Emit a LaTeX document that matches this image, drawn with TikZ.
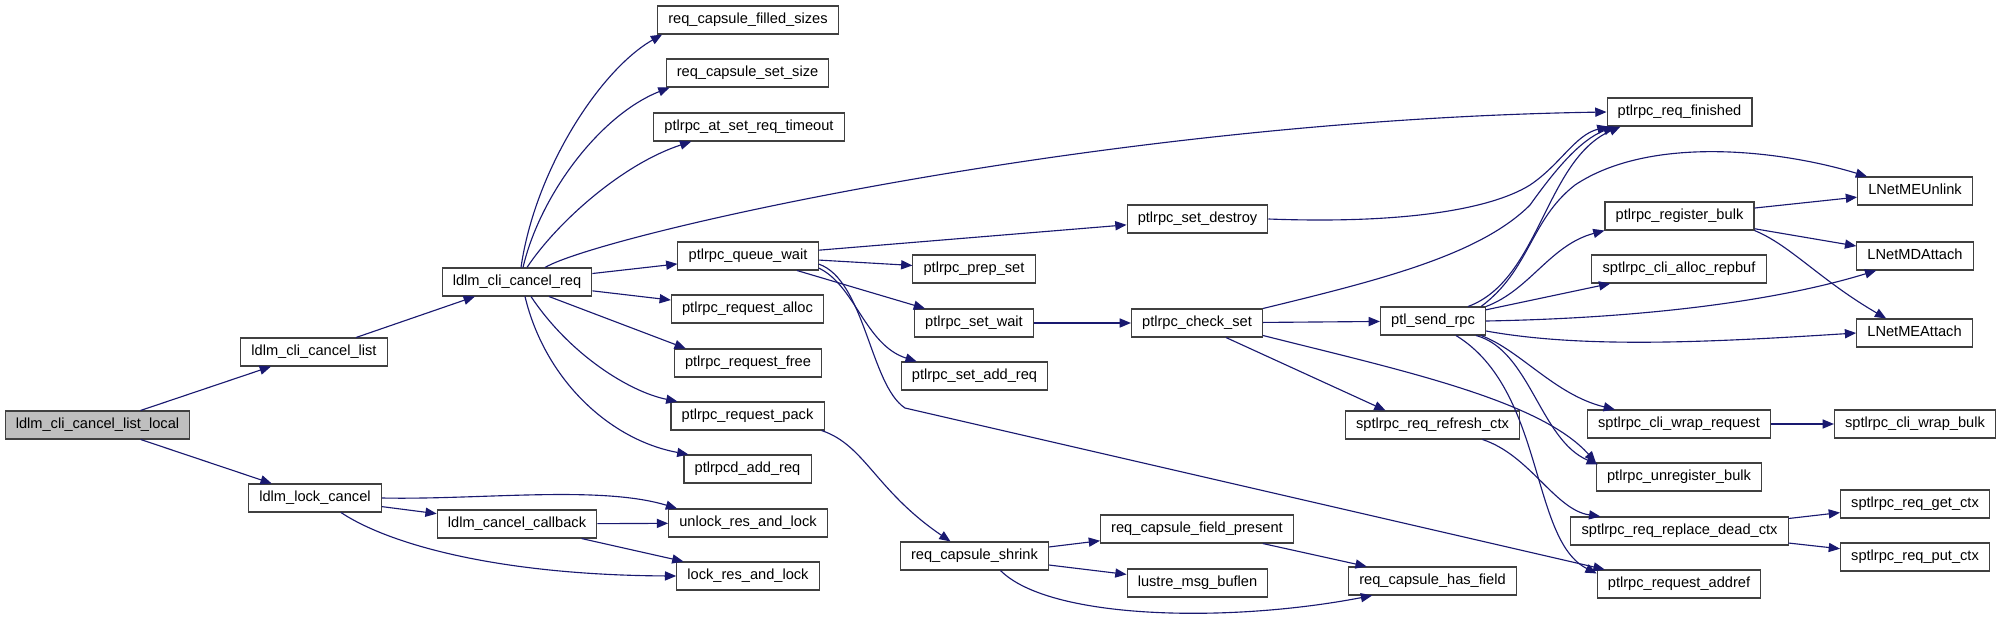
\documentclass[tikz,border=0pt]{standalone}
\usepackage{fontspec}
\setmainfont{Liberation Sans}
\usepackage{xcolor}
\definecolor{callblue}{HTML}{191970}
\definecolor{boxline}{HTML}{404040}
\definecolor{rootfill}{HTML}{BFBFBF}
\usepackage{tikz}
\usetikzlibrary{arrows.meta, calc, positioning}

\begin{document}
\begin{tikzpicture}[
  x=0.025cm, y=-0.025cm,
  fn/.style={rectangle, draw=boxline, fill=white, line width=0.75pt,
             font=\fontsize{10.4}{12}\selectfont, inner xsep=7.6pt,
             inner ysep=0pt, minimum height=0.7cm, text height=8pt,
             text depth=2.4pt},
  rootfn/.style={fn, fill=rootfill},
  call/.style={draw=callblue, line width=0.8pt,
               -{Triangle[length=8pt, width=6.5pt]}}
]
  \useasboundingbox (0,0) rectangle (2016,624);
  \fill[white] (0,0) rectangle (2016,624);

  % callers
  \node[rootfn] (listlocal) at (97.5,425) {ldlm\_cli\_cancel\_list\_local};
  \node[fn] (clilist) at (314,352) {ldlm\_cli\_cancel\_list};
  \node[fn] (lockcancel) at (315,498) {ldlm\_lock\_cancel};
  \node[fn] (clireq) at (517,282) {ldlm\_cli\_cancel\_req};
  \node[fn] (cancelcb) at (517,524) {ldlm\_cancel\_callback};

  % third column
  \node[fn] (filledsizes) at (748,20) {req\_capsule\_filled\_sizes};
  \node[fn] (setsize) at (747.5,73) {req\_capsule\_set\_size};
  \node[fn] (attimeout) at (749,127) {ptlrpc\_at\_set\_req\_timeout};
  \node[fn] (queuewait) at (748,256) {ptlrpc\_queue\_wait};
  \node[fn] (reqalloc) at (747.5,309) {ptlrpc\_request\_alloc};
  \node[fn] (reqfree) at (748,363) {ptlrpc\_request\_free};
  \node[fn] (reqpack) at (747.5,416) {ptlrpc\_request\_pack};
  \node[fn] (pdaddreq) at (747.5,469) {ptlrpcd\_add\_req};
  \node[fn] (unlockres) at (748,523) {unlock\_res\_and\_lock};
  \node[fn] (lockres) at (748,576) {lock\_res\_and\_lock};

  % fourth and fifth columns
  \node[fn] (prepset) at (974,269) {ptlrpc\_prep\_set};
  \node[fn] (setwait) at (974,323) {ptlrpc\_set\_wait};
  \node[fn] (setaddreq) at (974.5,376) {ptlrpc\_set\_add\_req};
  \node[fn] (capshrink) at (974.5,556) {req\_capsule\_shrink};
  \node[fn] (setdestroy) at (1197.5,219) {ptlrpc\_set\_destroy};
  \node[fn] (checkset) at (1197,323) {ptlrpc\_check\_set};
  \node[fn] (fieldpresent) at (1197,529) {req\_capsule\_field\_present};
  \node[fn] (msgbuflen) at (1197.5,583) {lustre\_msg\_buflen};

  % sixth column
  \node[fn] (sendrpc) at (1433,321) {ptl\_send\_rpc};
  \node[fn] (refreshctx) at (1432.5,425) {sptlrpc\_req\_refresh\_ctx};
  \node[fn] (hasfield) at (1432.5,581) {req\_capsule\_has\_field};

  % seventh column
  \node[fn] (reqfinished) at (1679.5,112) {ptlrpc\_req\_finished};
  \node[fn] (regbulk) at (1679.5,216) {ptlrpc\_register\_bulk};
  \node[fn] (allocrepbuf) at (1679,269) {sptlrpc\_cli\_alloc\_repbuf};
  \node[fn] (wraprequest) at (1679,424) {sptlrpc\_cli\_wrap\_request};
  \node[fn] (unregbulk) at (1679,477) {ptlrpc\_unregister\_bulk};
  \node[fn] (replacectx) at (1679.5,531) {sptlrpc\_req\_replace\_dead\_ctx};
  \node[fn] (reqaddref) at (1679,584) {ptlrpc\_request\_addref};

  % last column
  \node[fn] (meunlink) at (1915,191) {LNetMEUnlink};
  \node[fn] (mdattach) at (1915,256) {LNetMDAttach};
  \node[fn] (meattach) at (1914.5,333) {LNetMEAttach};
  \node[fn] (wrapbulk) at (1915,424) {sptlrpc\_cli\_wrap\_bulk};
  \node[fn] (getctx) at (1915,504) {sptlrpc\_req\_get\_ctx};
  \node[fn] (putctx) at (1915,557) {sptlrpc\_req\_put\_ctx};

  % calls
  \draw[call] (listlocal) -- (clilist);
  \draw[call] (listlocal) -- (lockcancel);
  \draw[call] (clilist) -- (clireq);

  \draw[call] ($(clireq.north)+(4,0)$) .. controls (535,170) and (600,70) .. ($(filledsizes.south west)+(5,0)$);
  \draw[call] ($(clireq.north)+(6,0)$) .. controls (540,195) and (600,115) .. ($(setsize.south west)+(4,0)$);
  \draw[call] ($(clireq.north)+(10,0)$) .. controls (555,225) and (620,165) .. ($(attimeout.south west)+(38,0)$);
  \draw[call] ($(clireq.north)+(28,0)$) .. controls (600,235) and (1100,120) .. (reqfinished.west);
  \draw[call] (clireq) -- (queuewait);
  \draw[call] (clireq) -- (reqalloc);
  \draw[call] ($(clireq.south)+(32,0)$) -- ($(reqfree.north west)+(12,0)$);
  \draw[call] ($(clireq.south)+(14,0)$) .. controls (570,355) and (630,392) .. ($(reqpack.north west)+(7,0)$);
  \draw[call] ($(clireq.south)+(8,0)$) .. controls (545,380) and (610,440) .. ($(pdaddreq.north west)+(5,0)$);

  \draw[call] (lockcancel.east) .. controls (480,500) and (600,485) .. ($(unlockres.north west)+(9,0)$);
  \draw[call] (lockcancel) -- (cancelcb);
  \draw[call] ($(lockcancel.south)+(26,0)$) .. controls (390,545) and (500,575) .. (lockres.west);
  \draw[call] (cancelcb) -- (unlockres);
  \draw[call] (cancelcb) -- (lockres);

  \draw[call] (queuewait) -- (setdestroy);
  \draw[call] (queuewait) -- (prepset);
  \draw[call] (queuewait) -- (setwait);
  \draw[call] ($(queuewait.east)+(0,12)$) .. controls (855,285) and (865,345) .. ($(setaddreq.north west)+(16,0)$);
  \draw[call] ($(queuewait.east)+(0,8)$) .. controls (865,280) and (870,385) .. (905,408)
    -- ($(reqaddref.north west)+(8,0)$);
  \draw[call] (setwait) -- (checkset);
  \draw[call] (setdestroy.east) .. controls (1400,224) and (1490,210) .. (1530,185)
    .. controls (1560,165) and (1575,135) .. ($(reqfinished.south west)+(2,0)$);

  \draw[call] (checkset.north east) .. controls (1380,280) and (1480,255) .. (1530,205)
    .. controls (1555,170) and (1580,140) .. ($(reqfinished.south west)+(8,0)$);
  \draw[call] (checkset) -- (sendrpc);
  \draw[call] ($(checkset.south)+(29,0)$) -- ($(refreshctx.north)+(-47,0)$);
  \draw[call] ($(checkset.south east)+(0,-2)$) .. controls (1400,370) and (1540,400) .. (unregbulk.north west);

  \draw[call] ($(reqpack.south east)+(-3,0)$) .. controls (865,445) and (875,490) .. ($(capshrink.north)+(-24,0)$);
  \draw[call] (capshrink) -- (fieldpresent);
  \draw[call] (capshrink) -- (msgbuflen);
  \draw[call] ($(capshrink.south)+(26,0)$) .. controls (1050,620) and (1230,623) .. ($(hasfield.south west)+(24,0)$);
  \draw[call] (fieldpresent) -- (hasfield);

  \draw[call] ($(sendrpc.north east)+(-18,0)$) .. controls (1540,280) and (1545,160) .. ($(reqfinished.south west)+(14,0)$);
  \draw[call] ($(sendrpc.north east)+(-5,0)$) .. controls (1530,270) and (1530,220) .. (1575,185)
    .. controls (1650,135) and (1780,150) .. ($(meunlink.north west)+(10,0)$);
  \draw[call] (sendrpc.north east) .. controls (1530,290) and (1550,245) .. (regbulk.south west);
  \draw[call] (sendrpc) -- (allocrepbuf);
  \draw[call] (sendrpc.east) .. controls (1650,318) and (1780,300) .. ($(mdattach.south west)+(20,0)$);
  \draw[call] ($(sendrpc.east)+(0,10)$) .. controls (1580,348) and (1700,343) .. (meattach.west);
  \draw[call] ($(sendrpc.south east)+(-5,0)$) .. controls (1520,350) and (1555,395) .. ($(wraprequest.north west)+(28,0)$);
  \draw[call] ($(sendrpc.south east)+(-10,0)$) .. controls (1530,350) and (1540,440) .. ($(unregbulk.north west)+(2,2)$);
  \draw[call] ($(sendrpc.south)+(23,0)$) .. controls (1545,390) and (1530,540) .. ($(reqaddref.north west)+(0,4)$);

  \draw[call] (regbulk) -- (meunlink);
  \draw[call] (regbulk) -- (mdattach);
  \draw[call] (regbulk.south east) .. controls (1790,245) and (1820,280) .. ($(meattach.north west)+(30,0)$);
  \draw[call] (wraprequest) -- (wrapbulk);
  \draw[call] ($(refreshctx.south)+(50,0)$) .. controls (1530,455) and (1555,510) .. ($(replacectx.north west)+(30,0)$);
  \draw[call] (replacectx) -- (getctx);
  \draw[call] (replacectx) -- (putctx);
\end{tikzpicture}
\end{document}
